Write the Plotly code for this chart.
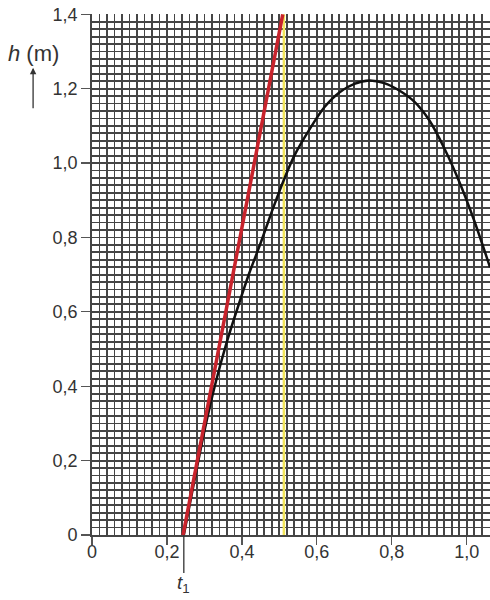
import plotly.graph_objects as go

# Data
curve_t = [0.245, 0.27, 0.30, 0.33, 0.36, 0.39, 0.42, 0.45, 0.48, 0.51, 0.54, 0.58, 0.62,
           0.66, 0.70, 0.74, 0.78, 0.82, 0.86, 0.90, 0.94, 0.98, 1.02, 1.062]
curve_h = [0.0, 0.13, 0.28, 0.41, 0.52, 0.615, 0.705, 0.785, 0.87, 0.95, 1.02, 1.09, 1.15,
           1.19, 1.213, 1.222, 1.215, 1.195, 1.165, 1.115, 1.04, 0.95, 0.845, 0.72]
tangent_t = [0.243, 0.509]
tangent_h = [0.0, 1.4]
yellow_t = [0.512, 0.512]
yellow_h = [0.0, 1.4]
t1 = 0.245

x_tickvals = [0, 0.2, 0.4, 0.6, 0.8, 1.0]
x_ticktext = ["0", "0,2", "0,4", "0,6", "0,8", "1,0"]
y_tickvals = [0, 0.2, 0.4, 0.6, 0.8, 1.0, 1.2, 1.4]
y_ticktext = ["0", "0,2", "0,4", "0,6", "0,8", "1,0", "1,2", "1,4"]

GRID = "#454545"
FONT = "Liberation Sans, Arial, sans-serif"

fig = go.Figure()
fig.add_trace(go.Scatter(x=yellow_t, y=yellow_h, mode="lines",
                         line=dict(color="#f3e65a", width=2.5), hoverinfo="skip"))
fig.add_trace(go.Scatter(x=curve_t, y=curve_h, mode="lines",
                         line=dict(color="#111111", width=2.5, shape="spline", smoothing=0.8),
                         hoverinfo="skip"))
fig.add_trace(go.Scatter(x=tangent_t, y=tangent_h, mode="lines",
                         line=dict(color="#c8232c", width=3.5), hoverinfo="skip"))

axis_common = dict(
    showgrid=True, gridcolor=GRID, gridwidth=1.8,
    zeroline=False, showline=True, linecolor=GRID, linewidth=1.8,
    ticks="outside", tickwidth=1.2, tickcolor="#555555",
    tickfont=dict(family=FONT, size=18, color="#333333"),
    minor=dict(dtick=0.02, showgrid=True, gridcolor=GRID, gridwidth=1.8, ticks=""),
    automargin=False, ticklabeloverflow="allow",
)

fig.update_xaxes(range=[0, 1.062], tickmode="array", tickvals=x_tickvals, ticktext=x_ticktext,
                 ticklen=8, ticklabelstandoff=-8, **axis_common)
fig.update_yaxes(range=[0, 1.4008], tickmode="array", tickvals=y_tickvals, ticktext=y_ticktext,
                 ticklen=9, mirror=False, **axis_common)

# t1 marker below axis
fig.add_shape(type="line", xref="x", yref="paper", x0=t1, x1=t1, y0=0, y1=-0.073,
              line=dict(color="#333333", width=1.3))
fig.add_annotation(xref="x", yref="paper", x=t1, y=-0.068, yanchor="top", xanchor="center",
                   text="<i>t</i><sub>1</sub>", showarrow=False,
                   font=dict(family=FONT, size=19, color="#333333"))

# axis title h (m) and arrow
fig.add_annotation(xref="paper", yref="paper", x=-0.148, y=0.925, xanchor="center", yanchor="middle",
                   text="<i>h</i> (m)", showarrow=False,
                   font=dict(family=FONT, size=22, color="#333333"))
fig.add_annotation(xref="paper", yref="paper", x=-0.148, y=0.897, text="", showarrow=True,
                   ax=0, ay=42, arrowhead=2, arrowsize=1, arrowwidth=1.3, arrowcolor="#333333")

fig.update_layout(
    width=490, height=600,
    margin=dict(l=92, r=0, t=14, b=65),
    paper_bgcolor="white", plot_bgcolor="white",
    showlegend=False,
    font=dict(family=FONT),
)

fig.write_html("out.html",
               config={"displayModeBar": False, "staticPlot": True},
               post_script="document.body.style.margin='0';document.body.style.overflow='hidden';")
